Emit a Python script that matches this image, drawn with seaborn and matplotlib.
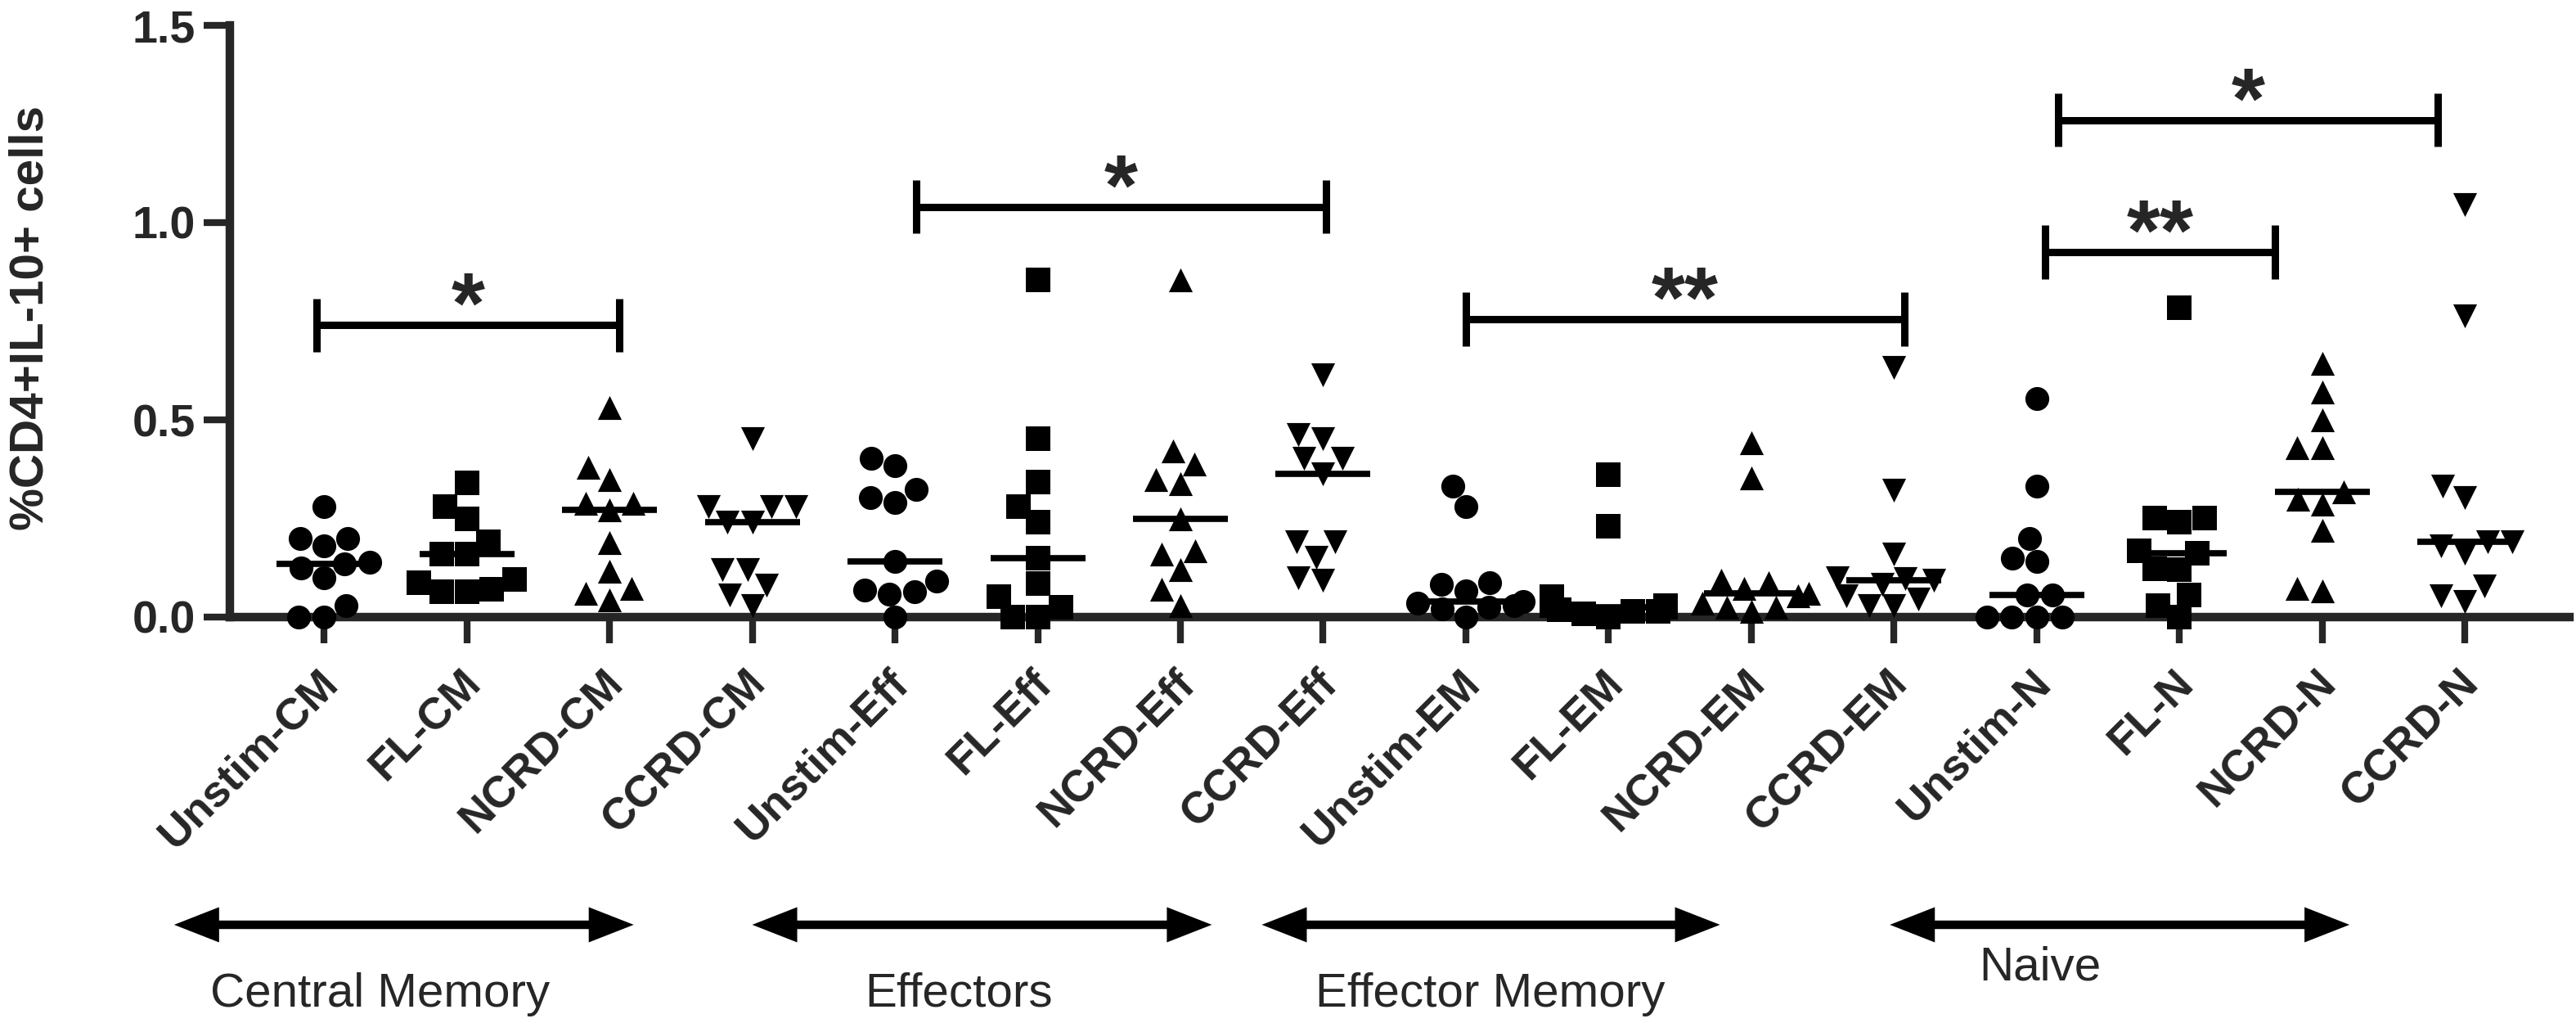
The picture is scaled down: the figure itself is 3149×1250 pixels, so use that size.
import numpy as np
import pandas as pd
import matplotlib
matplotlib.use("Agg")
import matplotlib.pyplot as plt
import matplotlib.transforms as mtransforms
import seaborn as sns
from matplotlib.patches import FancyArrowPatch

# ---- data ----
categories = ["Unstim-CM", "FL-CM", "NCRD-CM", "CCRD-CM",
              "Unstim-Eff", "FL-Eff", "NCRD-Eff", "CCRD-Eff",
              "Unstim-EM", "FL-EM", "NCRD-EM", "CCRD-EM",
              "Unstim-N", "FL-N", "NCRD-N", "CCRD-N"]
marker_cycle = ["o", "s", "^", "v"]

unstim_cm = [0.28, 0.20, 0.20, 0.18, 0.14, 0.135, 0.125, 0.10, 0.03, 0.0, 0.0]
fl_cm = [0.34, 0.28, 0.25, 0.19, 0.16, 0.16, 0.095, 0.088, 0.07, 0.065, 0.065]
ncrd_cm = [0.532, 0.38, 0.349, 0.289, 0.289, 0.271, 0.188, 0.117, 0.073, 0.06, 0.044]
ccrd_cm = [0.453, 0.281, 0.281, 0.281, 0.241, 0.241, 0.12, 0.12, 0.08, 0.055, 0.03]
unstim_eff = [0.402, 0.384, 0.324, 0.303, 0.291, 0.141, 0.091, 0.069, 0.065, 0.059, 0.0]
fl_eff = [0.855, 0.453, 0.342, 0.28, 0.241, 0.149, 0.085, 0.051, 0.024, 0.0, 0.0]
ncrd_eff = [0.855, 0.421, 0.389, 0.349, 0.339, 0.249, 0.169, 0.159, 0.12, 0.07, 0.03]
ccrd_eff = [0.614, 0.463, 0.453, 0.402, 0.402, 0.363, 0.19, 0.19, 0.151, 0.10, 0.093]
unstim_em = [0.331, 0.28, 0.088, 0.083, 0.067, 0.04, 0.035, 0.03, 0.024, 0.02, 0.0]
fl_em = [0.361, 0.231, 0.051, 0.03, 0.03, 0.024, 0.019, 0.014, 0.014, 0.008, 0.0]
ncrd_em = [0.442, 0.352, 0.093, 0.088, 0.072, 0.061, 0.053, 0.035, 0.024, 0.024, 0.014]
ccrd_em = [0.633, 0.321, 0.159, 0.10, 0.098, 0.093, 0.083, 0.053, 0.046, 0.03, 0.03]
unstim_n = [0.553, 0.331, 0.199, 0.149, 0.141, 0.056, 0.056, 0.0, 0.0, 0.0, 0.0]
fl_n = [0.784, 0.252, 0.252, 0.241, 0.169, 0.162, 0.122, 0.12, 0.056, 0.03, 0.0]
ncrd_n = [0.643, 0.571, 0.50, 0.43, 0.43, 0.317, 0.299, 0.286, 0.22, 0.072, 0.067]
ccrd_n = [1.046, 0.763, 0.331, 0.303, 0.19, 0.19, 0.181, 0.162, 0.079, 0.054, 0.04]

values = [unstim_cm, fl_cm, ncrd_cm, ccrd_cm, unstim_eff, fl_eff, ncrd_eff, ccrd_eff,
          unstim_em, fl_em, ncrd_em, ccrd_em, unstim_n, fl_n, ncrd_n, ccrd_n]

# significance brackets: (left x, right x, bar height, label)
sig_brackets = [(-0.05, 2.07, 0.74, "*"),
                (4.15, 7.02, 1.04, "*"),
                (8.0, 11.07, 0.755, "**"),
                (12.06, 13.67, 0.925, "**"),
                (12.15, 14.81, 1.26, "*")]

# population groups under the axis: name, arrow span, label position
group_names = ["Central Memory", "Effectors", "Effector Memory", "Naive"]
group_spans = [(-1.05, 2.17), (3.0, 6.22), (6.57, 9.78), (10.97, 14.19)]
group_label_x = [0.395, 4.447, 8.172, 12.023]
group_label_y = [-0.658, -0.658, -0.658, -0.614]

rows = []
for i, (cat, vals) in enumerate(zip(categories, values)):
    for v in vals:
        rows.append((cat, v, marker_cycle[i % 4]))
df = pd.DataFrame(rows, columns=["group", "value", "marker"])

# ---- plot ----
sns.set_style("ticks")
plt.rcParams["font.family"] = ["Liberation Sans", "DejaVu Sans"]

fig = plt.figure(figsize=(31.49, 12.5), dpi=100)
ax = fig.add_axes([0.0892, 0.3968, 0.9082, 0.5784])

for m in marker_cycle:
    sns.swarmplot(data=df[df["marker"] == m], x="group", y="value", order=categories,
                  marker=m, size=21, color="black", linewidth=0, clip_on=False,
                  warn_thresh=1, ax=ax, zorder=3)

# median line per group
sns.pointplot(data=df, x="group", y="value", order=categories, estimator="median",
              errorbar=None, color="black", marker="_", markersize=83,
              markeredgewidth=5.5, linestyle="none", ax=ax, zorder=4)

ax.set_xlim(-0.66, 15.73)
ax.set_ylim(0, 1.5)
ax.set_yticks([0, 0.5, 1.0, 1.5])
ax.set_yticklabels(["0.0", "0.5", "1.0", "1.5"], fontsize=40, fontweight="bold")
ax.set_xticks(range(len(categories)))
ax.set_xticklabels(categories, rotation=45, ha="right", va="top",
                   rotation_mode="anchor", fontsize=39, fontweight="bold")
ax.tick_params(axis="both", direction="out", length=23, width=6)
ax.tick_params(axis="y", pad=7)
ax.tick_params(axis="x", pad=17)
shift = mtransforms.ScaledTranslation(-6 / 72, 0, fig.dpi_scale_trans)
for lbl in ax.get_xticklabels():
    lbl.set_transform(lbl.get_transform() + shift)
for side in ["top", "right"]:
    ax.spines[side].set_visible(False)
for side in ["left", "bottom"]:
    ax.spines[side].set_linewidth(7.5)
ax.set_xlabel("")
ax.set_ylabel("%CD4+IL-10+ cells", fontsize=42, fontweight="bold")
ax.yaxis.set_label_coords(-0.0755, 0.505)

# significance bars
cap = 0.068
for x0, x1, y, lab in sig_brackets:
    ax.plot([x0, x1], [y, y], color="black", lw=6.5, solid_capstyle="butt")
    ax.plot([x0, x0], [y - cap, y + cap], color="black", lw=6.5, solid_capstyle="butt")
    ax.plot([x1, x1], [y - cap, y + cap], color="black", lw=6.5, solid_capstyle="butt")
    ax.text((x0 + x1) / 2, y - 0.02, lab, ha="center", va="baseline",
            fontsize=76, fontweight="bold")

# population arrows under the axis
trans = ax.get_xaxis_transform()
arrow_y = -0.52
for name, (x0, x1), lx, ly in zip(group_names, group_spans, group_label_x, group_label_y):
    ax.plot([x0 + 0.2, x1 - 0.2], [arrow_y, arrow_y], color="black", lw=7.5,
            solid_capstyle="butt", transform=trans, clip_on=False)
    ax.add_patch(FancyArrowPatch((x0, arrow_y), (x1, arrow_y), transform=trans,
                                 arrowstyle="<|-|>,head_length=39.6,head_width=15.5",
                                 mutation_scale=1, lw=0, color="black",
                                 shrinkA=0, shrinkB=0, clip_on=False))
    ax.text(lx, ly, name, transform=trans, ha="center", va="baseline", fontsize=42)

fig.savefig("out.png", dpi=100)
